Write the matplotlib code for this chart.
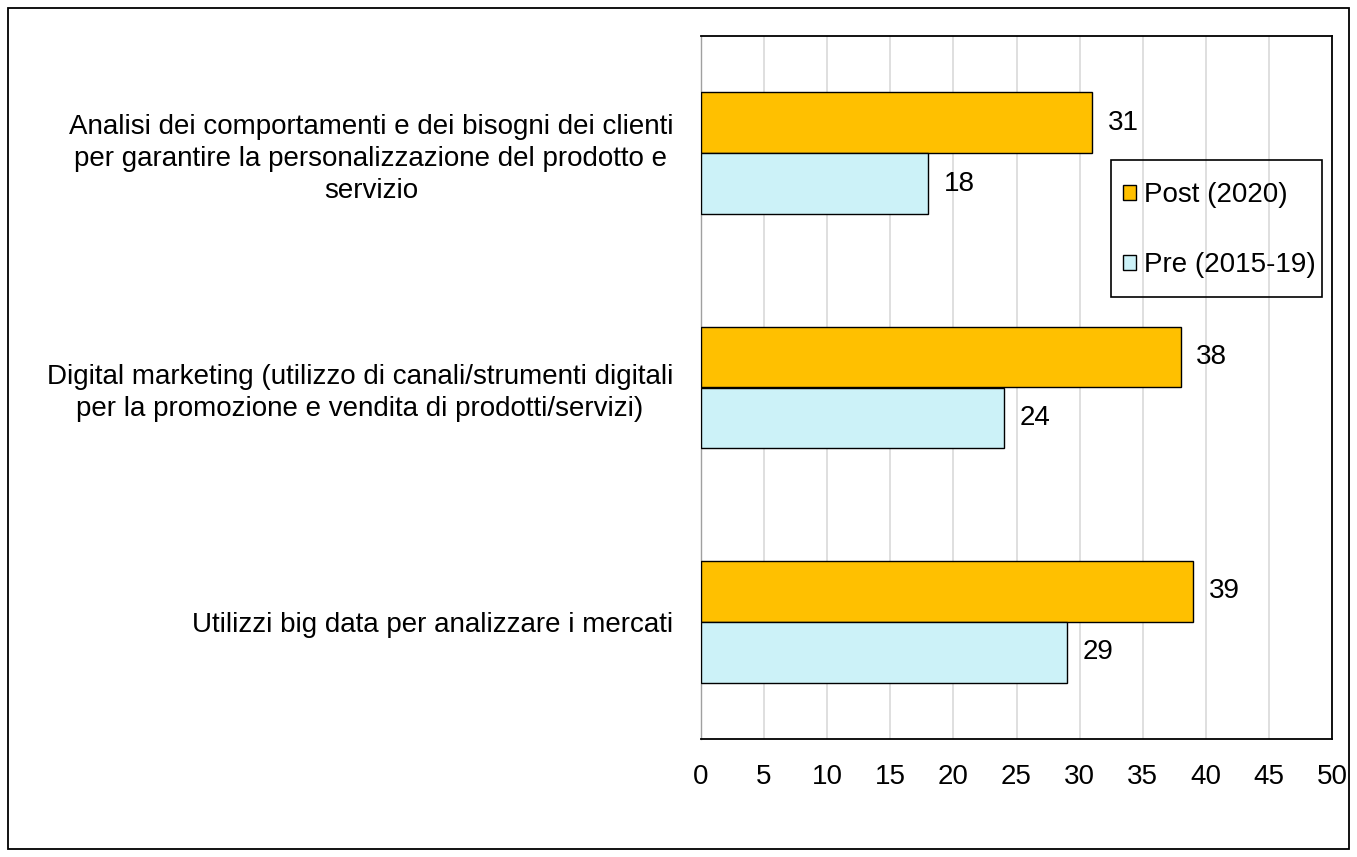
# bar chart: digital activities pre / post (2020)
import matplotlib
matplotlib.use('AGG')
import matplotlib.pyplot as plt
import numpy as np

#%% data
categories = ['Analisi dei comportamenti e dei bisogni dei clienti\nper garantire la personalizzazione del prodotto e\nservizio',
              'Digital marketing (utilizzo di canali/strumenti digitali\nper la promozione e vendita di prodotti/servizi)',
              'Utilizzi big data per analizzare i mercati']
post_2020 = [31, 38, 39]
pre_2015_19 = [18, 24, 29]
series_labels = ['Post (2020)', 'Pre (2015-19)']
xticks = [0, 5, 10, 15, 20, 25, 30, 35, 40, 45, 50]

#%% settings
plt.rcParams['font.family'] = ['Liberation Sans', 'DejaVu Sans']
fs = 20
col_post = '#FFC000'
col_pre = '#CCF2F8'
W, H = 1357, 857

fig = plt.figure(figsize=(13.57, 8.57), dpi=100)
ax = fig.add_axes([701/W, 1-739/H, (1332-701)/W, (739-36)/H])

# outer frame of the chart
fig.patches.append(plt.Rectangle((8/W, 8/H), 1341/W, 841/H, transform=fig.transFigure,
                                 fill=False, edgecolor='k', linewidth=1.3))

ypos = np.arange(len(categories))  # 0 at top (y axis inverted)
h = 0.26
b1 = ax.barh(ypos - h/2, post_2020, height=h, color=col_post, edgecolor='k', linewidth=1, label=series_labels[0], zorder=3)
b2 = ax.barh(ypos + h/2, pre_2015_19, height=h, color=col_pre, edgecolor='k', linewidth=1, label=series_labels[1], zorder=3)

for bars, vals in [(b1, post_2020), (b2, pre_2015_19)]:
    for r, v in zip(bars, vals):
        ax.text(v + 1.25, r.get_y() + r.get_height()/2, str(v), va='center', ha='left', fontsize=fs)

ax.set_xlim(0, 50)
ax.set_ylim(2.5, -0.5)
ax.set_xticks(xticks)
ax.set_yticks(ypos)
ax.set_yticklabels(categories, fontsize=fs)
for lab in ax.get_yticklabels():
    lab.set_multialignment('center')
    lab.set_linespacing(1.28)
ax.tick_params(axis='x', length=0, labelsize=fs, pad=18)
ax.tick_params(axis='y', length=0, pad=20)
ax.grid(axis='x', color='#D9D9D9', linewidth=1.2, zorder=0)
ax.set_axisbelow(True)
for s in ['top', 'right', 'bottom']:
    ax.spines[s].set_color('k')
    ax.spines[s].set_linewidth(1.3)
ax.spines['left'].set_color('#A0A0A0')
ax.spines['left'].set_linewidth(1)

# legend without its own frame, box drawn separately
leg = ax.legend(loc='upper left', bbox_to_anchor=(1123/W, 1-182/H), bbox_transform=fig.transFigure,
                fontsize=fs, frameon=False, handlelength=0.45, handleheight=0.45,
                handletextpad=0.3, labelspacing=1.6, borderpad=0, borderaxespad=0)
fig.patches.append(plt.Rectangle((1111/W, 1-297/H), (1322-1111)/W, (297-160)/H, transform=fig.transFigure,
                                 fill=False, edgecolor='k', linewidth=1.2, zorder=5))

fig.savefig('out.png', dpi=100)
plt.close()
